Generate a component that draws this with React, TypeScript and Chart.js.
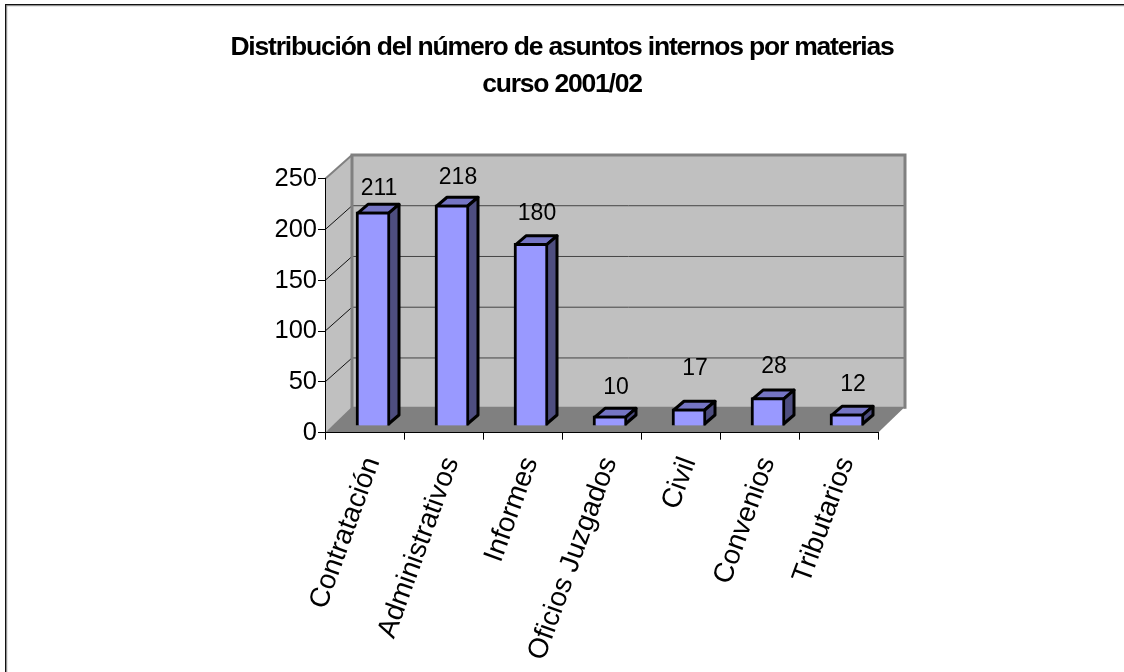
import React, { useEffect, useRef } from "react";
import { Chart, registerables } from "chart.js";

Chart.register(...registerables);

const categories = ["Contratación", "Administrativos", "Informes", "Oficios Juzgados", "Civil", "Convenios", "Tributarios"];
const values = [211, 218, 180, 10, 17, 28, 12];
const titleLines = ["Distribución del número de asuntos internos por materias", "curso 2001/02"];
const yTicks = [0, 50, 100, 150, 200, 250];
const labelLift = [23, 27, 30, 28, 40, 31, 29];

const FONT = "'Liberation Sans', Arial, sans-serif";
const DEPTH_X = 27;
const DEPTH_Y = -24;

const polygon = (ctx: any, pts: number[][], fill?: string, stroke?: string, lw = 1) => {
  ctx.beginPath();
  pts.forEach((p, i) => (i ? ctx.lineTo(p[0], p[1]) : ctx.moveTo(p[0], p[1])));
  ctx.closePath();
  if (fill) { ctx.fillStyle = fill; ctx.fill(); }
  if (stroke) { ctx.strokeStyle = stroke; ctx.lineWidth = lw; ctx.stroke(); }
};

const threeD = {
  id: "threeD",
  beforeDraw(chart: any) {
    const { ctx, chartArea: a, scales } = chart;
    const { left: l, right: r, top: t, bottom: b } = a;
    const tb = chart.titleBlock;
    if (tb && !tb.__spaced) {
      const orig = tb.draw;
      tb.draw = function (...args: any[]) {
        ctx.letterSpacing = "-1.2px";
        orig.apply(this, args);
        ctx.letterSpacing = "0px";
      };
      tb.__spaced = true;
    }
    ctx.save();
    ctx.fillStyle = "#fff";
    ctx.fillRect(0, 0, chart.width, chart.height);
    // page frame
    ctx.fillStyle = "#111";
    ctx.fillRect(5, 4, chart.width - 5, 1.4);
    ctx.fillRect(5, 4, 1.4, chart.height - 4);
    ctx.fillStyle = "#888";
    ctx.fillRect(6.4, 5.4, chart.width - 6.4, 0.8);
    ctx.fillRect(6.4, 5.4, 0.8, chart.height - 5.4);
    const dx = DEPTH_X, dy = DEPTH_Y;
    // side wall and back wall
    polygon(ctx, [[l, t], [l + dx, t + dy], [l + dx, b + dy], [l, b]], "#c0c0c0");
    polygon(ctx, [[l + dx, t + dy], [r + dx, t + dy], [r + dx, b + dy], [l + dx, b + dy]], "#c0c0c0");
    // grid lines on both walls
    ctx.lineWidth = 1;
    for (const v of yTicks) {
      if (v === 0 || v === 250) continue;
      const y = scales.y.getPixelForValue(v);
      ctx.strokeStyle = "#111";
      ctx.beginPath(); ctx.moveTo(l, y); ctx.lineTo(l + dx, y + dy); ctx.stroke();
      ctx.strokeStyle = "#444";
      ctx.beginPath(); ctx.moveTo(l + dx, y + dy); ctx.lineTo(r + dx, y + dy); ctx.stroke();
    }
    // floor
    polygon(ctx, [[l, b], [l + dx, b + dy - 2], [r + dx, b + dy - 2], [r, b]], "#808080");
    // wall edges
    ctx.strokeStyle = "#808080";
    ctx.lineWidth = 3;
    ctx.beginPath();
    ctx.moveTo(l + dx, b + dy); ctx.lineTo(l + dx, t + dy); ctx.lineTo(r + dx, t + dy); ctx.lineTo(r + dx, b + dy);
    ctx.stroke();
    ctx.lineWidth = 2;
    ctx.beginPath(); ctx.moveTo(l, t); ctx.lineTo(l + dx, t + dy); ctx.stroke();
    ctx.restore();
  },
  beforeDatasetsDraw(chart: any) {
    const { ctx } = chart;
    ctx.save();
    ctx.translate(8.5, -6.7);
    const meta = chart.getDatasetMeta(0);
    for (const el of meta.data) {
      const x0 = el.x - el.width / 2 + 1.5, x1 = el.x + el.width / 2 - 1.5;
      const y0 = el.y + 1.5, y1 = el.base - 1.5;
      const ddx = 10.5, ddy = -9;
      ctx.lineJoin = "round";
      polygon(ctx, [[x0, y0], [x0 + ddx, y0 + ddy], [x1 + ddx, y0 + ddy], [x1, y0]], "#7575c4", "#000", 3);
      polygon(ctx, [[x1, y0], [x1 + ddx, y0 + ddy], [x1 + ddx, y1 + ddy], [x1, y1]], "#4e4e80", "#000", 3);
    }
  },
  afterDatasetsDraw(chart: any) {
    const { ctx } = chart;
    ctx.restore();
    ctx.save();
    ctx.fillStyle = "#000";
    ctx.font = `23px ${FONT}`;
    ctx.textAlign = "center";
    ctx.textBaseline = "middle";
    const meta = chart.getDatasetMeta(0);
    meta.data.forEach((el: any, i: number) => {
      ctx.fillText(String(values[i]), el.x + 8.5 + 6, el.y - 6.7 - labelLift[i]);
    });
    ctx.restore();
  },
};

export default function App() {
  const ref = useRef<HTMLCanvasElement>(null);
  useEffect(() => {
    const chart = new Chart(ref.current!, {
      type: "bar",
      data: {
        labels: categories,
        datasets: [{
          data: values,
          yAxisID: "y",
          backgroundColor: "#9999ff",
          borderColor: "#000",
          borderWidth: 3,
          barThickness: 34,
          clip: false,
        } as any],
      },
      plugins: [threeD],
      options: {
        animation: false,
        responsive: false,
        layout: { autoPadding: false, padding: 0 },
        plugins: {
          legend: { display: false },
          tooltip: { enabled: false },
          title: {
            display: true,
            text: titleLines,
            color: "#000",
            font: { family: FONT, size: 26.5, weight: "bold", lineHeight: 1.396 },
            padding: { top: 29, bottom: 76 },
            align: "center",
            fullSize: true,
          },
        },
        scales: {
          x: {
            grid: { drawOnChartArea: false, color: "#000", tickLength: 7, lineWidth: 1 },
            border: { color: "#000", width: 1 },
            ticks: {
              color: "#000",
              autoSkip: false,
              maxRotation: 70,
              minRotation: 70,
              labelOffset: 8,
              padding: 13,
              font: { family: FONT, size: 28 },
            },
            afterFit(s: any) { s.height = 672 - 432.7; },
          },
          y: {
            min: 0,
            max: 250,
            grid: { drawOnChartArea: false, color: "#000", tickLength: 7, lineWidth: 1 },
            border: { color: "#000", width: 1 },
            ticks: {
              color: "#000",
              stepSize: 50,
              padding: 1,
              font: { family: FONT, size: 25.5 },
            },
            afterFit(s: any) { s.width = 325; },
          },
          spacer: {
            type: "linear",
            position: "right",
            grid: { display: false },
            border: { display: false },
            ticks: { display: false },
            afterFit(s: any) { s.width = 246; },
          },
        },
      },
    } as any);
    return () => chart.destroy();
  }, []);
  return <canvas ref={ref} width={1124} height={672} style={{ position: "fixed", left: 0, top: 0, display: "block" }} />;
}
